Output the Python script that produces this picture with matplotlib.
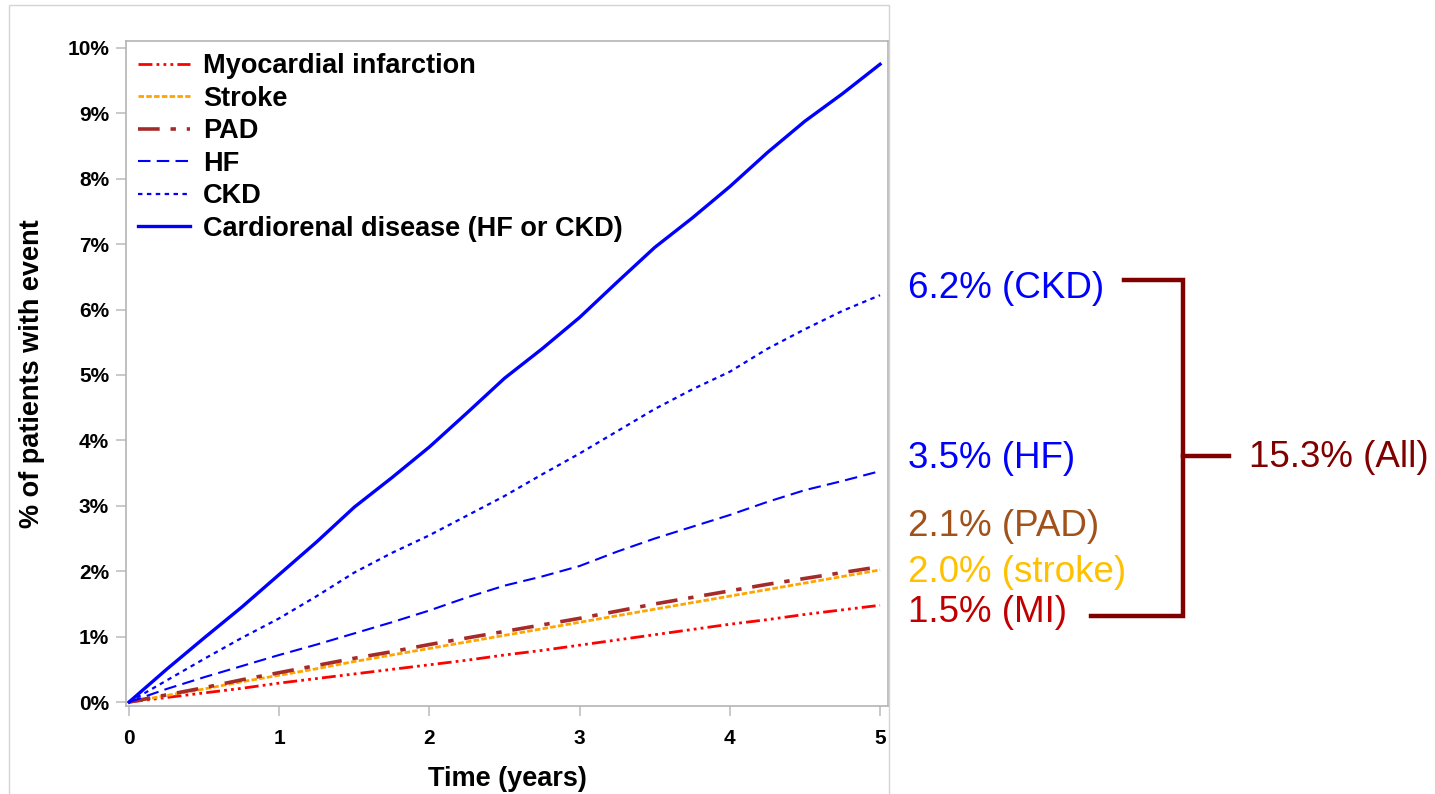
import matplotlib
matplotlib.use("Agg")
import matplotlib.pyplot as plt
from matplotlib.lines import Line2D
from matplotlib.patches import Rectangle

plt.rcParams['font.family'] = ['Liberation Sans', 'DejaVu Sans']

# time grid (years) and cumulative incidence (%)
years = [0, 0.25, 0.5, 0.75, 1.0, 1.25, 1.5, 1.75, 2.0, 2.25, 2.5,
         2.75, 3.0, 3.25, 3.5, 3.75, 4.0, 4.25, 4.5, 4.75, 5.0]

mi = [0, 0.07, 0.14, 0.21, 0.29, 0.36, 0.43, 0.50, 0.57, 0.64, 0.72,
      0.79, 0.87, 0.95, 1.03, 1.11, 1.19, 1.26, 1.34, 1.41, 1.48]
stroke = [0, 0.10, 0.20, 0.31, 0.41, 0.51, 0.62, 0.72, 0.82, 0.92, 1.02,
          1.12, 1.22, 1.32, 1.42, 1.52, 1.62, 1.72, 1.82, 1.92, 2.02]
pad = [0, 0.11, 0.22, 0.34, 0.45, 0.56, 0.67, 0.77, 0.88, 0.98, 1.08,
       1.18, 1.28, 1.39, 1.50, 1.60, 1.70, 1.80, 1.89, 1.98, 2.07]
hf = [0, 0.20, 0.38, 0.55, 0.72, 0.88, 1.05, 1.22, 1.40, 1.60, 1.78,
      1.92, 2.08, 2.30, 2.50, 2.68, 2.86, 3.06, 3.24, 3.38, 3.53]
ckd = [0, 0.33, 0.66, 0.98, 1.28, 1.62, 1.98, 2.28, 2.55, 2.85, 3.15,
       3.48, 3.80, 4.14, 4.48, 4.78, 5.05, 5.40, 5.70, 5.98, 6.22]
cardiorenal = [0, 0.50, 0.98, 1.45, 1.95, 2.45, 2.98, 3.43, 3.90, 4.42, 4.95,
               5.40, 5.88, 6.42, 6.95, 7.40, 7.88, 8.40, 8.88, 9.30, 9.75]

y_ticks = list(range(0, 11))
x_ticks = [0, 1, 2, 3, 4, 5]

# five-year summary labels shown to the right
summary_labels = ['6.2% (CKD)', '3.5% (HF)', '2.1% (PAD)', '2.0% (stroke)', '1.5% (MI)']
summary_colors = ['#0000FF', '#0000FF', '#A0521A', '#FFC000', '#C00000']
summary_y_px = [288, 459, 527, 572, 613]
total_label = '15.3% (All)'

W, H = 1435, 794
fig = plt.figure(figsize=(W / 100, H / 100), dpi=100)


def fx(px):
    return px / W


def fy(py):
    return 1 - py / H


ax = fig.add_axes([fx(126), fy(706), fx(888) - fx(126), fy(40.7) - fy(706)])

ax.plot(years, mi, color='#FF0000', lw=2.0,
        linestyle=(0, (5, 1.5, 1, 1.5, 1, 1.5, 1, 1.5)),
        label='Myocardial infarction')
ax.plot(years, stroke, color='#FFA500', lw=2.0, linestyle=(0, (2, 0.8)),
        label='Stroke')
ax.plot(years, pad, color='#A52A2A', lw=2.6, linestyle=(0, (6, 3, 1.5, 3)),
        label='PAD')
ax.plot(years, hf, color='#0000FF', lw=1.5, linestyle=(0, (6, 3)), label='HF')
ax.plot(years, ckd, color='#0000FF', lw=1.6, linestyle=(0, (2, 2)), label='CKD')
ax.plot(years, cardiorenal, color='#0000FF', lw=2.4, linestyle='-',
        label='Cardiorenal disease (HF or CKD)')

ax.set_xlim(-0.02, 5.053)
ax.set_ylim(-0.06, 10.11)
ax.set_xticks(x_ticks)
ax.set_xticklabels([str(t) for t in x_ticks], fontsize=15, fontweight='bold')
ax.set_yticks(y_ticks)
ax.set_yticklabels([f'{t}%' for t in y_ticks], fontsize=15, fontweight='bold')
ax.tick_params(axis='both', direction='out', length=7.2, width=1.2, color='#c0c0c0')
ax.tick_params(axis='x', pad=9)
ax.tick_params(axis='y', pad=5)
for s in ax.spines.values():
    s.set_color('#b4b4b4')
    s.set_linewidth(1.2)

ax.set_xlabel('Time (years)', fontsize=19.5, fontweight='bold', labelpad=13)
ax.set_ylabel('% of patients with event', fontsize=19.5, fontweight='bold', labelpad=16)

leg = ax.legend(loc='upper left', bbox_to_anchor=(0.0157, 0.981), frameon=False,
                prop={'weight': 'bold', 'size': 19.5},
                handlelength=1.92, handletextpad=0.48, labelspacing=0.24,
                borderpad=0, borderaxespad=0)

# light frame around the plot image
fig.add_artist(Rectangle((fx(9), fy(900)), fx(889) - fx(9), fy(5) - fy(900),
                         transform=fig.transFigure, fill=False,
                         edgecolor='#d4d4d4', lw=1.0, clip_on=False))

# summary labels
for lab, col, py in zip(summary_labels, summary_colors, summary_y_px):
    fig.text(fx(908), fy(py), lab, color=col, fontsize=26.5, ha='left', va='center')
fig.text(fx(1249), fy(458), total_label, color='#800000', fontsize=26.5,
         ha='left', va='center')

# bracket
bc = '#800000'
blw = 3.2
fig.add_artist(Line2D([fx(1124), fx(1183), fx(1183), fx(1091)],
                      [fy(280), fy(280), fy(616), fy(616)],
                      transform=fig.transFigure, color=bc, lw=blw,
                      solid_joinstyle='miter'))
fig.add_artist(Line2D([fx(1183), fx(1229)], [fy(456), fy(456)],
                      transform=fig.transFigure, color=bc, lw=blw))

fig.savefig('out.png', dpi=100)
